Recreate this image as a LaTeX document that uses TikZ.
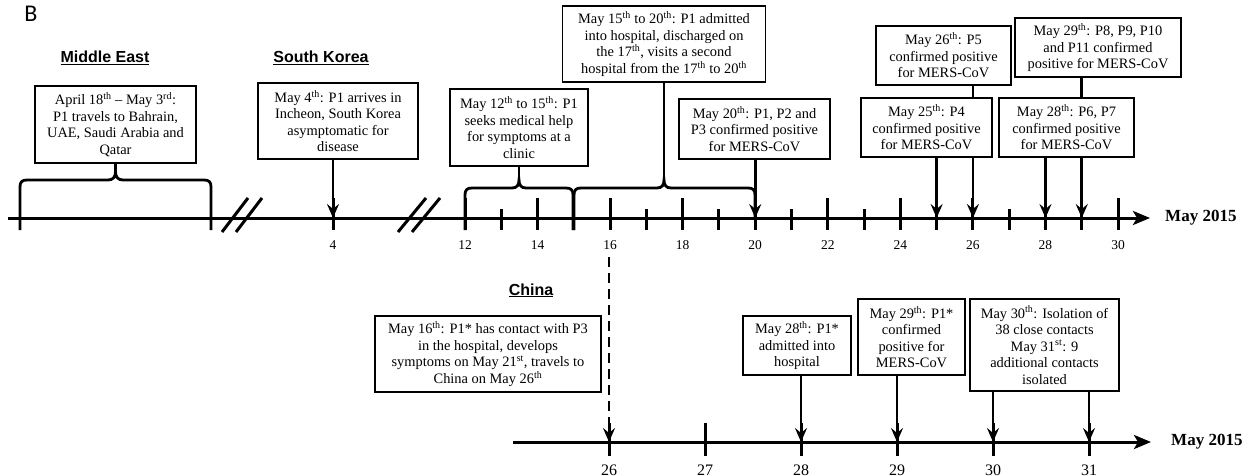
\documentclass[tikz,border=0pt]{standalone}
\usepackage{fontspec}
\setmainfont{Liberation Serif}
\setsansfont{Liberation Sans}
\newfontfamily\panelfont{Carlito}
\usetikzlibrary{arrows.meta, positioning}
\tikzstyle{event} = [rectangle, draw, fill=white, line width=1.6pt, align=center, inner sep=2pt, font=\fontsize{14.4}{16.5}\selectfont]
\tikzstyle{arrow} = [line width=2.8pt, -{Stealth[length=14pt, width=12pt, inset=5pt]}]
\tikzstyle{link} = [line width=2.8pt]
\tikzstyle{tick} = [line width=3pt]
\tikzstyle{region} = [font=\sffamily\bfseries\fontsize{16}{18}\selectfont, anchor=base, inner sep=0pt]
\tikzstyle{daynum} = [anchor=base, inner sep=0pt, font=\fontsize{13.5}{15}\selectfont]
\tikzstyle{month} = [font=\bfseries\fontsize{17}{20}\selectfont, inner sep=0pt]

\begin{document}
\begin{tikzpicture}[x=1pt, y=-1pt]
\useasboundingbox (0,0) rectangle (1253,476);
\node[font=\panelfont\fontsize{24}{26}\selectfont, inner sep=0pt] (panel) at (31,14) {B};

% region headings
\node[region] (hme) at (105,63) {\underline{Middle East}};
\node[region] (hsk) at (321,63) {\underline{South Korea}};
\node[region] (hcn) at (531,295) {\underline{China}};

% main time axis
\coordinate (axstart) at (8,218);
\coordinate (axend) at (1150,218);
\draw[tick, -{Stealth[length=17pt, width=14pt, inset=4pt]}] (axstart) -- (axend);
\node[month, right=15pt of axend] (month1) {May 2015};

\coordinate (d4) at (333,218);
\draw[tick] (333,198) -- (333,230);
\node[daynum] (l4) at (333,249) {4};
\foreach \d in {12,...,30}{
    \pgfmathsetmacro\xx{465+36.28*(\d-12)}
    \coordinate (d\d) at (\xx,218);
}
\foreach \d in {12,14,...,30}{
    \pgfmathsetmacro\xx{465+36.28*(\d-12)}
    \draw[tick] (\xx,198) -- (\xx,230);
    \node[daynum] (l\d) at (\xx,249) {\d};
}
\foreach \d in {13,15,...,29}{
    \pgfmathsetmacro\xx{465+36.28*(\d-12)}
    \draw[tick] (\xx,209) -- (\xx,230);
}
% axis breaks
\draw[tick] (222,232) -- (248,198);
\draw[tick] (236,232) -- (262,198);
\draw[tick] (398,232) -- (426,198);
\draw[tick] (412,232) -- (440,198);

% events before the outbreak
\node[event, minimum width=161pt, minimum height=77pt] (me) at (115.5,124.5) {April 18\textsuperscript{th} -- May 3\textsuperscript{rd}:\\P1 travels to Bahrain,\\UAE, Saudi Arabia and\\Qatar};
\node[event, minimum width=160pt, minimum height=76pt] (sk) at (338,121) {May 4\textsuperscript{th}: P1 arrives in\\Incheon, South Korea\\asymptomatic for\\disease};
\node[event, minimum width=138pt, minimum height=77pt] (clinic) at (519,127.5) {May 12\textsuperscript{th} to 15\textsuperscript{th}: P1\\seeks medical help\\for symptoms at a\\clinic};
\node[event, minimum width=203pt, minimum height=76pt] (hosp) at (664,44) {May 15\textsuperscript{th} to 20\textsuperscript{th}: P1 admitted\\into hospital, discharged on\\the 17\textsuperscript{th}, visits a second\\hospital from the 17\textsuperscript{th} to 20\textsuperscript{th}};

% braces
\draw[link] (20,230) -- (20,187) .. controls (20,182) and (22,180) .. (27,180) -- (108,180) .. controls (113,180) and (115.5,177) .. (115.5,172) .. controls (115.5,177) and (118,180) .. (123,180) -- (204,180) .. controls (209,180) and (211,182) .. (211,187) -- (211,230);
\draw[link] (115.5,172) -- (me.south);
\draw[link] (465,230) -- (465,195) .. controls (465,190) and (467,188) .. (472,188) -- (512,188) .. controls (517,188) and (519,185) .. (519,180) .. controls (519,185) and (521,188) .. (526,188) -- (566,188) .. controls (571,188) and (573,190) .. (573,195) -- (573,230);
\draw[link] (519,180) -- (clinic.south);
\draw[link] (574,230) -- (574,195) .. controls (574,190) and (576,188) .. (581,188) -- (657,188) .. controls (662,188) and (664,185) .. (664,180) .. controls (664,185) and (666,188) .. (671,188) -- (748,188) .. controls (753,188) and (755,190) .. (755,195) -- (755,218);
\draw[link] (664,180) -- (hosp.south);

% confirmed cases
\node[event, minimum width=151pt, minimum height=60pt] (c20) at (754.5,129) {May 20\textsuperscript{th}: P1, P2 and\\P3 confirmed positive\\for MERS-CoV};
\node[event, minimum width=131pt, minimum height=59pt] (p4) at (926.5,127.5) {May 25\textsuperscript{th}: P4\\confirmed positive\\for MERS-CoV};
\node[event, minimum width=135pt, minimum height=59pt] (p5) at (943.5,55.5) {May 26\textsuperscript{th}: P5\\confirmed positive\\for MERS-CoV};
\node[event, minimum width=135pt, minimum height=59pt] (p6) at (1066.5,127.5) {May 28\textsuperscript{th}: P6, P7\\confirmed positive\\for MERS-CoV};
\node[event, minimum width=166pt, minimum height=59pt] (p8) at (1098,47.5) {May 29\textsuperscript{th}: P8, P9, P10\\and P11 confirmed\\positive for MERS-CoV};

\draw[arrow] (sk.south -| d4) -- (d4);
\draw[arrow] (c20.south -| d20) -- (d20);
\draw[arrow] (p4.south -| d25) -- (d25);
\draw[link] (p5.south -| d26) -- (p4.north -| d26);
\draw[arrow] (p4.south -| d26) -- (d26);
\draw[arrow] (p6.south -| d28) -- (d28);
\draw[link] (p8.south -| d29) -- (p6.north -| d29);
\draw[arrow] (p6.south -| d29) -- (d29);

% China time axis
\coordinate (lstart) at (513,442);
\coordinate (lend) at (1151,442);
\draw[tick, -{Stealth[length=17pt, width=14pt, inset=4pt]}] (lstart) -- (lend);
\node[month, right=20pt of lend] (month2) {May 2015};
\foreach \d in {26,...,31}{
    \pgfmathsetmacro\xx{609+96*(\d-26)}
    \coordinate (c\d) at (\xx,442);
    \draw[tick] (\xx,423) -- (\xx,456);
    \node[daynum, font=\fontsize{16}{18}\selectfont] (m\d) at (\xx,475) {\d};
}

\node[event, minimum width=226pt, minimum height=76pt] (cn16) at (488,354) {May 16\textsuperscript{th}: P1* has contact with P3\\in the hospital, develops\\symptoms on May 21\textsuperscript{st}, travels to\\China on May 26\textsuperscript{th}};
\node[event, minimum width=108pt, minimum height=59pt] (cn28) at (797,345.5) {May 28\textsuperscript{th}: P1*\\admitted into\\hospital};
\node[event, minimum width=107pt, minimum height=76pt] (cn29) at (911.5,337) {May 29\textsuperscript{th}: P1*\\confirmed\\positive for\\MERS-CoV};
\node[event, minimum width=149pt, minimum height=92pt] (cn30) at (1044.5,345) {May 30\textsuperscript{th}: Isolation of\\38 close contacts\\May 31\textsuperscript{st}: 9\\additional contacts\\isolated};

\coordinate (dstart) at (609,257);
\draw[arrow, dash pattern=on 10pt off 6pt] (dstart) -- (c26);
\draw[arrow] (cn28.south -| c28) -- (c28);
\draw[arrow] (cn29.south -| c29) -- (c29);
\draw[arrow] (cn30.south -| c30) -- (c30);
\draw[arrow] (cn30.south -| c31) -- (c31);
\end{tikzpicture}
\end{document}
